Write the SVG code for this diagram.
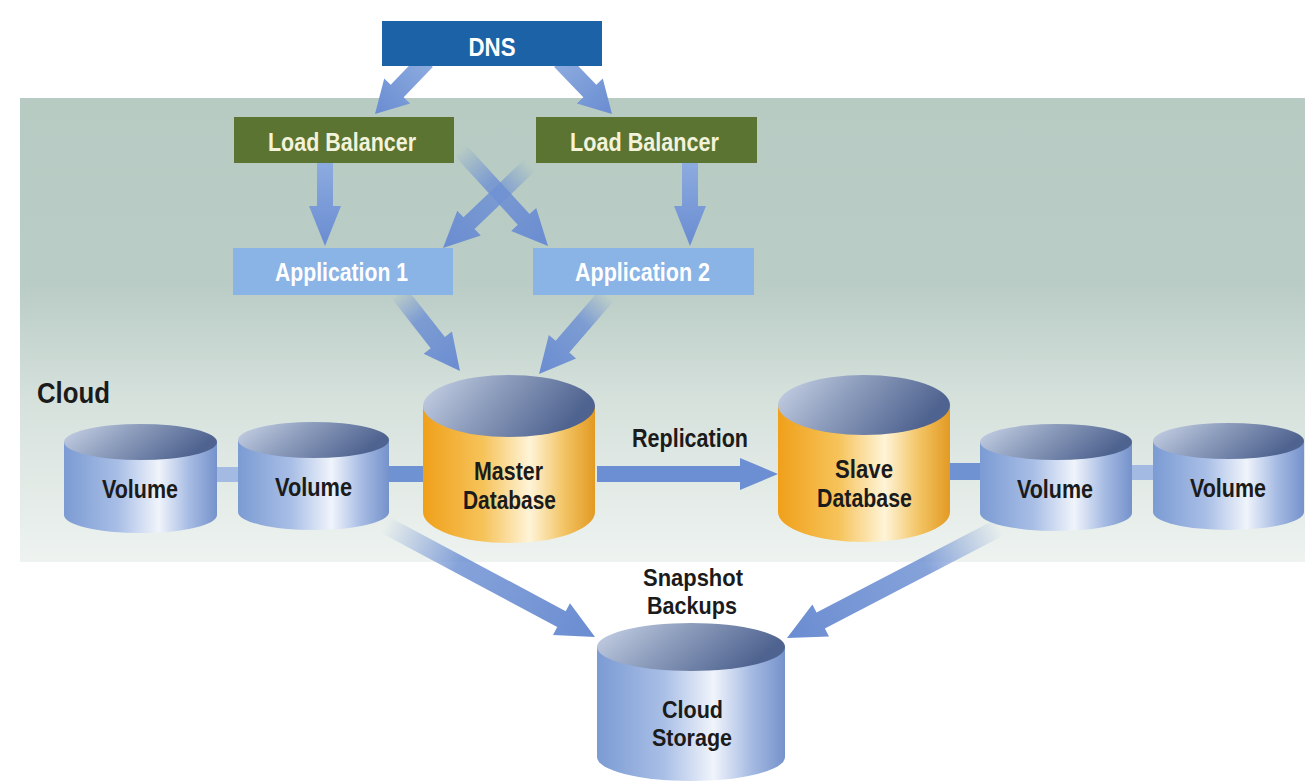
<svg xmlns="http://www.w3.org/2000/svg" width="1305" height="784" viewBox="0 0 1305 784">
  <defs>
    <linearGradient id="panelGrad" x1="0" y1="0" x2="0" y2="1">
      <stop offset="0" stop-color="#b7cbc3"/>
      <stop offset="0.4" stop-color="#b9ccc5"/>
      <stop offset="0.65" stop-color="#d6e1dc"/>
      <stop offset="1" stop-color="#eef3f0"/>
    </linearGradient>
    <linearGradient id="blueBody" x1="0" y1="0" x2="1" y2="0">
      <stop offset="0" stop-color="#7b9bd3"/>
      <stop offset="0.35" stop-color="#a8bee6"/>
      <stop offset="0.62" stop-color="#f0f4fb"/>
      <stop offset="0.82" stop-color="#a6bbe3"/>
      <stop offset="1" stop-color="#7592cb"/>
    </linearGradient>
    <linearGradient id="orangeBody" x1="0" y1="0" x2="1" y2="0">
      <stop offset="0" stop-color="#f0a01a"/>
      <stop offset="0.35" stop-color="#f6c35a"/>
      <stop offset="0.62" stop-color="#fff4d8"/>
      <stop offset="0.82" stop-color="#f2c464"/>
      <stop offset="1" stop-color="#e39a22"/>
    </linearGradient>
    <linearGradient id="topFace" x1="0" y1="0" x2="1" y2="0.3">
      <stop offset="0" stop-color="#cbd5e8"/>
      <stop offset="0.45" stop-color="#8e9ebd"/>
      <stop offset="1" stop-color="#4f6390"/>
    </linearGradient>
    <linearGradient id="arrowSolid" x1="0" y1="0" x2="1" y2="0">
      <stop offset="0" stop-color="#8cabdf"/>
      <stop offset="1" stop-color="#6a8cd1"/>
    </linearGradient>
    <linearGradient id="arrowFade" x1="0" y1="0" x2="1" y2="0">
      <stop offset="0" stop-color="#6d8fd2" stop-opacity="0"/>
      <stop offset="0.35" stop-color="#7092d3" stop-opacity="0.85"/>
      <stop offset="1" stop-color="#6a8cd1" stop-opacity="1"/>
    </linearGradient>
    <style>
      .lbl { font-family: "Liberation Sans", Arial, sans-serif; font-weight: bold; text-anchor: middle; }
      .dark { fill: #1b1b1b; font-size: 26px; }
      .white { fill: #ffffff; font-size: 25px; }
      .cream { fill: #f3f2da; font-size: 25px; }
      .big { font-size: 29px; }
      .small { font-size: 24px; }
      .dns { fill: #1c62a6; }
      .lb { fill: #5b7431; }
      .app { fill: #8ab3e6; }
      .blueBody { fill: url(#blueBody); }
      .orangeBody { fill: url(#orangeBody); }
      .top { fill: url(#topFace); }
      .solid { fill: url(#arrowSolid); }
      .fade { fill: url(#arrowFade); }
      .band { fill: #6f93d2; }
      .bandLight { fill: #a3bae2; }
    </style>
  </defs>

  <rect x="0" y="0" width="1305" height="784" fill="#ffffff"/>
  <g id="cloud-panel">
    <rect x="20" y="98" width="1285" height="464" fill="url(#panelGrad)"/>
    <text class="lbl dark big" x="73.5" y="403" textLength="73" lengthAdjust="spacingAndGlyphs">Cloud</text>
  </g>

  <g id="connectors">
    <rect class="bandLight" x="200" y="467" width="50" height="15"/>
    <rect class="band" x="380" y="466" width="50" height="16"/>
    <rect class="band" x="940" y="463" width="50" height="17"/>
    <rect class="bandLight" x="1120" y="465" width="45" height="15"/>
    <path class="solid" d="M-74,-9 L-32,-9 L-32,-18 L0,0 L-32,18 L-32,9 L-74,9 Z" transform="translate(375,114) rotate(133.9)"/>
    <path class="solid" d="M-74,-9 L-32,-9 L-32,-18 L0,0 L-32,18 L-32,9 L-74,9 Z" transform="translate(612,114) rotate(46.1)"/>
    <path class="solid" d="M-83,-8 L-40,-8 L-40,-16 L0,0 L-40,16 L-40,8 L-83,8 Z" transform="translate(325,246) rotate(90)"/>
    <path class="solid" d="M-83,-8 L-40,-8 L-40,-16 L0,0 L-40,16 L-40,8 L-83,8 Z" transform="translate(690,246) rotate(90)"/>
    <path class="fade" d="M-120,-8 L-36,-8 L-36,-17 L0,0 L-36,17 L-36,8 L-120,8 Z" transform="translate(443,248) rotate(136.3)"/>
    <path class="fade" d="M-130,-8 L-36,-8 L-36,-17 L0,0 L-36,17 L-36,8 L-130,8 Z" transform="translate(548,246) rotate(47.5)"/>
    <path class="fade" d="M-100,-9 L-36,-9 L-36,-18 L0,0 L-36,18 L-36,9 L-100,9 Z" transform="translate(460,371) rotate(51.9)"/>
    <path class="fade" d="M-104,-9 L-36,-9 L-36,-18 L0,0 L-36,18 L-36,9 L-104,9 Z" transform="translate(539,374) rotate(130.7)"/>
    <path fill="#6b8fd2" d="M-181,-8 L-38,-8 L-38,-16 L0,0 L-38,16 L-38,8 L-181,8 Z" transform="translate(778,474)"/>
    <path class="fade" d="M-238,-9 L-38,-9 L-38,-18 L0,0 L-38,18 L-38,9 L-238,9 Z" transform="translate(595,637) rotate(28.1)"/>
    <path class="fade" d="M-240,-9 L-38,-9 L-38,-18 L0,0 L-38,18 L-38,9 L-240,9 Z" transform="translate(787,638) rotate(152.5)"/>
  </g>

  <g id="dns">
    <rect class="dns" x="382" y="21" width="220" height="45"/>
    <text class="lbl white" x="492" y="56" textLength="47" lengthAdjust="spacingAndGlyphs">DNS</text>
  </g>
  <g id="lb1">
    <rect class="lb" x="234" y="117" width="220" height="46"/>
    <text class="lbl cream" x="342" y="151" textLength="148" lengthAdjust="spacingAndGlyphs">Load Balancer</text>
  </g>
  <g id="lb2">
    <rect class="lb" x="536" y="117" width="221" height="46"/>
    <text class="lbl cream" x="644.5" y="151" textLength="149" lengthAdjust="spacingAndGlyphs">Load Balancer</text>
  </g>
  <g id="app1">
    <rect class="app" x="233" y="248" width="220" height="47"/>
    <text class="lbl white" x="341.5" y="281" textLength="133" lengthAdjust="spacingAndGlyphs">Application 1</text>
  </g>
  <g id="app2">
    <rect class="app" x="533" y="248" width="221" height="47"/>
    <text class="lbl white" x="642.5" y="281" textLength="135" lengthAdjust="spacingAndGlyphs">Application 2</text>
  </g>

  <g id="volume1">
    <path class="blueBody" d="M64,442 L64,515 A76.5,18 0 0 0 217,515 L217,442 Z"/>
    <ellipse class="top" cx="140.5" cy="442" rx="76.5" ry="18"/>
    <text class="lbl dark" x="140" y="498" textLength="76" lengthAdjust="spacingAndGlyphs">Volume</text>
  </g>
  <g id="volume2">
    <path class="blueBody" d="M238,440 L238,512 A75.5,18 0 0 0 389,512 L389,440 Z"/>
    <ellipse class="top" cx="313.5" cy="440" rx="75.5" ry="18"/>
    <text class="lbl dark" x="313.5" y="496" textLength="77" lengthAdjust="spacingAndGlyphs">Volume</text>
  </g>
  <g id="master-db">
    <path class="orangeBody" d="M423,406 L423,512 A86,31 0 0 0 595,512 L595,406 Z"/>
    <ellipse class="top" cx="509" cy="406" rx="86" ry="31"/>
    <text class="lbl dark" x="508.5" y="480" textLength="69" lengthAdjust="spacingAndGlyphs">Master</text>
    <text class="lbl dark" x="509.5" y="509" textLength="93" lengthAdjust="spacingAndGlyphs">Database</text>
  </g>
  <g id="replication-label">
    <text class="lbl dark" x="690" y="447" textLength="116" lengthAdjust="spacingAndGlyphs">Replication</text>
  </g>
  <g id="slave-db">
    <path class="orangeBody" d="M778,405 L778,512 A86,30 0 0 0 950,512 L950,405 Z"/>
    <ellipse class="top" cx="864" cy="405" rx="86" ry="30"/>
    <text class="lbl dark" x="864" y="478" textLength="58" lengthAdjust="spacingAndGlyphs">Slave</text>
    <text class="lbl dark" x="864.5" y="507" textLength="95" lengthAdjust="spacingAndGlyphs">Database</text>
  </g>
  <g id="volume3">
    <path class="blueBody" d="M980,442 L980,513 A76,18 0 0 0 1132,513 L1132,442 Z"/>
    <ellipse class="top" cx="1056" cy="442" rx="76" ry="18"/>
    <text class="lbl dark" x="1055" y="498" textLength="76" lengthAdjust="spacingAndGlyphs">Volume</text>
  </g>
  <g id="volume4">
    <path class="blueBody" d="M1153,441 L1153,512 A75.5,18 0 0 0 1304,512 L1304,441 Z"/>
    <ellipse class="top" cx="1228.5" cy="441" rx="75.5" ry="18"/>
    <text class="lbl dark" x="1228" y="497" textLength="76" lengthAdjust="spacingAndGlyphs">Volume</text>
  </g>
  <g id="snapshot-label">
    <text class="lbl dark small" x="693" y="586" textLength="100" lengthAdjust="spacingAndGlyphs">Snapshot</text>
    <text class="lbl dark small" x="692" y="614" textLength="90" lengthAdjust="spacingAndGlyphs">Backups</text>
  </g>
  <g id="cloud-storage">
    <path class="blueBody" d="M597,647 L597,757 A94,24 0 0 0 785,757 L785,647 Z"/>
    <ellipse class="top" cx="691" cy="647" rx="94" ry="24"/>
    <text class="lbl dark small" x="692.5" y="718" textLength="61" lengthAdjust="spacingAndGlyphs">Cloud</text>
    <text class="lbl dark small" x="692" y="746" textLength="80" lengthAdjust="spacingAndGlyphs">Storage</text>
  </g>
</svg>
